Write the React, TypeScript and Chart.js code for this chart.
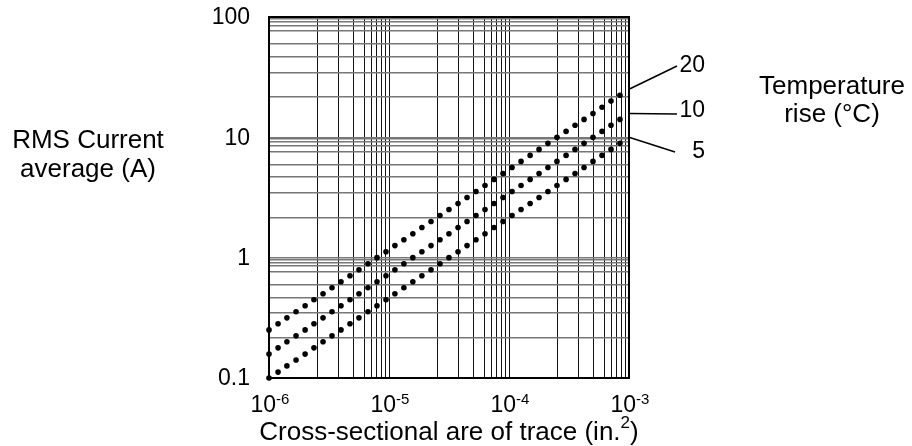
import React, { useEffect, useRef } from "react";
import { Chart, registerables } from "chart.js";

Chart.register(...registerables);

const FONT = "'Liberation Sans', Arial, Helvetica, sans-serif";

// Cross-sectional area of trace (in.^2)
const areaValues = [
  1.0e-6, 1.19e-6, 1.41e-6, 1.68e-6, 2.0e-6, 2.37e-6, 2.82e-6, 3.35e-6, 3.98e-6, 4.73e-6,
  5.62e-6, 6.68e-6, 7.94e-6, 9.44e-6, 1.12e-5, 1.33e-5, 1.58e-5, 1.88e-5, 2.24e-5, 2.66e-5,
  3.16e-5, 3.76e-5, 4.47e-5, 5.31e-5, 6.31e-5, 7.5e-5, 8.91e-5, 1.06e-4, 1.26e-4, 1.5e-4,
  1.78e-4, 2.11e-4, 2.51e-4, 2.99e-4, 3.55e-4, 4.22e-4, 5.01e-4, 5.96e-4, 7.08e-4, 8.41e-4,
];

// RMS current (A) for temperature rise 20 °C
const rise20 = [
  0.251, 0.282, 0.316, 0.355, 0.398, 0.447, 0.501, 0.562, 0.631, 0.708,
  0.794, 0.891, 1.0, 1.12, 1.26, 1.41, 1.58, 1.78, 2.0, 2.24,
  2.51, 2.82, 3.16, 3.55, 3.98, 4.47, 5.01, 5.62, 6.31, 7.08,
  7.94, 8.91, 10.0, 11.2, 12.6, 14.1, 15.8, 17.8, 20.0, 22.4,
];

// RMS current (A) for temperature rise 10 °C
const rise10 = [
  0.158, 0.178, 0.2, 0.224, 0.251, 0.282, 0.316, 0.355, 0.398, 0.447,
  0.501, 0.562, 0.631, 0.708, 0.794, 0.891, 1.0, 1.12, 1.26, 1.41,
  1.58, 1.78, 2.0, 2.24, 2.51, 2.82, 3.16, 3.55, 3.98, 4.47,
  5.01, 5.62, 6.31, 7.08, 7.94, 8.91, 10.0, 11.2, 12.6, 14.1,
];

// RMS current (A) for temperature rise 5 °C
const rise5 = [
  0.1, 0.112, 0.126, 0.141, 0.158, 0.178, 0.2, 0.224, 0.251, 0.282,
  0.316, 0.355, 0.398, 0.447, 0.501, 0.562, 0.631, 0.708, 0.794, 0.891,
  1.0, 1.12, 1.26, 1.41, 1.58, 1.78, 2.0, 2.24, 2.51, 2.82,
  3.16, 3.55, 3.98, 4.47, 5.01, 5.62, 6.31, 7.08, 7.94, 8.91,
];

const seriesLabels = ["20", "10", "5"];
const leaderAnchorX = 1e-3;
const leaderAnchorY = [25.1, 15.8, 10.0];

const xDecades = [1e-6, 1e-5, 1e-4, 1e-3];
const xExponents = ["-6", "-5", "-4", "-3"];
const yDecades = [0.1, 1, 10, 100];
const yTickLabels = ["0.1", "1", "10", "100"];
const xMinorSteps = [2.53, 3.8, 5.08, 6.22, 7.08, 7.89, 8.67, 9.38];
const yMinorSteps = [2.16, 3.47, 4.67, 5.97, 7.62, 8.51, 9.12, 9.66];

const yTitleLines = ["RMS Current", "average (A)"];
const legendTitleLines = ["Temperature", "rise (\u00B0C)"];
const xTitleMain = "Cross-sectional are of trace (in.";
const xTitleSup = "2";
const xTitleEnd = ")";

function gridValues(decades: number[], steps: number[]) {
  const out: number[] = [];
  decades.forEach((d, i) => {
    out.push(d);
    if (i < decades.length - 1) steps.forEach((s) => out.push(d * s));
  });
  return out;
}

const annotationPlugin = {
  id: "annotations",
  afterDraw(chart: any) {
    const { ctx, chartArea: a, scales } = chart;
    const xs = scales.x;
    const ys = scales.y;
    ctx.save();
    // frame
    ctx.strokeStyle = "#000";
    ctx.lineWidth = 2;
    ctx.strokeRect(a.left, a.top, a.right - a.left, a.bottom - a.top);

    ctx.fillStyle = "#000";

    // y tick labels
    ctx.textAlign = "right";
    ctx.textBaseline = "middle";
    ctx.font = `23px ${FONT}`;
    yDecades.forEach((v, i) => {
      ctx.fillText(yTickLabels[i], a.left - 19, ys.getPixelForValue(v) + 1);
    });

    ctx.textBaseline = "alphabetic";
    ctx.textAlign = "left";

    // x tick labels 10^n
    xDecades.forEach((v, i) => {
      const px = xs.getPixelForValue(v);
      ctx.font = `23px ${FONT}`;
      const w1 = ctx.measureText("10").width;
      ctx.font = `15px ${FONT}`;
      const w2 = ctx.measureText(xExponents[i]).width;
      const start = px - (w1 + w2) / 2 + 1;
      ctx.font = `23px ${FONT}`;
      ctx.fillText("10", start, a.bottom + 34);
      ctx.font = `15px ${FONT}`;
      ctx.fillText(xExponents[i], start + w1, a.bottom + 26);
    });

    // x title
    {
      ctx.font = `26px ${FONT}`;
      const m1 = ctx.measureText(xTitleMain).width;
      const m2 = ctx.measureText(xTitleEnd).width;
      ctx.font = `17px ${FONT}`;
      const s = ctx.measureText(xTitleSup).width;
      const cx = (a.left + a.right) / 2;
      const start = cx - (m1 + s + m2) / 2;
      const base = a.bottom + 62;
      ctx.font = `26px ${FONT}`;
      ctx.fillText(xTitleMain, start, base);
      ctx.fillText(xTitleEnd, start + m1 + s, base);
      ctx.font = `17px ${FONT}`;
      ctx.fillText(xTitleSup, start + m1, base - 12);
    }

    // y title (horizontal, two lines)
    ctx.textAlign = "center";
    ctx.font = `26px ${FONT}`;
    ctx.fillText(yTitleLines[0], 88, 148);
    ctx.fillText(yTitleLines[1], 88, 177);

    // legend title
    ctx.fillText(legendTitleLines[0], 832, 94);
    ctx.fillText(legendTitleLines[1], 832, 122);

    // curve labels + leader lines
    const ends = [
      [677, 66],
      [677, 114],
      [675, 152],
    ];
    const labelBase = [72, 117, 158];
    ctx.lineWidth = 1.5;
    ctx.strokeStyle = "#000";
    seriesLabels.forEach((lab, i) => {
      const sx = xs.getPixelForValue(leaderAnchorX);
      const sy = ys.getPixelForValue(leaderAnchorY[i]);
      ctx.beginPath();
      ctx.moveTo(sx, sy);
      ctx.lineTo(ends[i][0], ends[i][1]);
      ctx.stroke();
      ctx.textAlign = "right";
      ctx.font = `23px ${FONT}`;
      ctx.fillText(lab, 705, labelBase[i]);
    });
    ctx.restore();
  },
};

export default function App() {
  const canvasRef = useRef<HTMLCanvasElement | null>(null);

  useEffect(() => {
    if (!canvasRef.current) return;
    const xGrid = gridValues(xDecades, xMinorSteps);
    const yGrid = gridValues(yDecades, yMinorSteps);
    const mk = (ys: number[], label: string) => ({
      label,
      data: areaValues.map((x, i) => ({ x, y: ys[i] })),
      showLine: false,
      pointRadius: 2.8,
      pointBorderWidth: 0,
      pointBackgroundColor: "#000",
      pointBorderColor: "#000",
      clip: false as any,
    });
    const chart = new Chart(canvasRef.current, {
      type: "scatter",
      data: {
        datasets: [mk(rise20, "20"), mk(rise10, "10"), mk(rise5, "5")],
      },
      options: {
        responsive: false,
        animation: false,
        devicePixelRatio: 1,
        layout: { padding: { left: 0, right: 283, top: 17, bottom: 0 } },
        plugins: {
          legend: { display: false },
          tooltip: { enabled: false },
        },
        scales: {
          x: {
            type: "logarithmic",
            min: 1e-6,
            max: 1e-3,
            afterBuildTicks: (s: any) => {
              s.ticks = xGrid.map((v) => ({ value: v }));
            },
            afterFit: (s: any) => {
              s.height = 68;
            },
            ticks: { display: false },
            grid: { color: "#111", lineWidth: 1, drawTicks: false },
            border: { display: false },
          },
          y: {
            type: "logarithmic",
            min: 0.1,
            max: 100,
            afterBuildTicks: (s: any) => {
              s.ticks = yGrid.map((v) => ({ value: v }));
            },
            afterFit: (s: any) => {
              s.width = 269;
            },
            ticks: { display: false },
            grid: { color: "#777", lineWidth: 1.5, drawTicks: false },
            border: { display: false },
          },
        },
      },
      plugins: [annotationPlugin],
    } as any);
    return () => chart.destroy();
  }, []);

  return (
    <div style={{ position: "fixed", left: 0, top: 0, width: 912, height: 446, background: "#fff" }}>
      <canvas ref={canvasRef} width={912} height={446} style={{ display: "block" }} />
    </div>
  );
}
